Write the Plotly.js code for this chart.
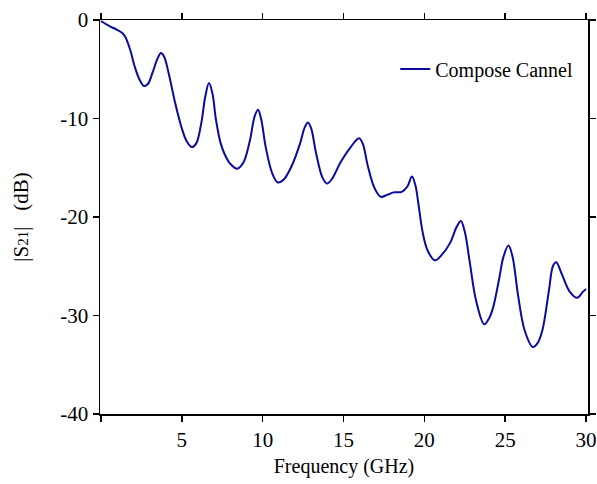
<!DOCTYPE html>
<html>
<head>
<meta charset="utf-8">
<script src="https://cdn.plot.ly/plotly-3.0.1.min.js"></script>
<style>body{margin:0;padding:0;background:#fff}#chart{width:597px;height:484px}</style>
</head>
<body>
<div id="chart"></div>
<script>
const freqGHz = [0,0.5,1.0,1.3,1.5,1.8,2.1,2.4,2.66,2.9,3.2,3.5,3.71,3.9,4.2,4.6,5.0,5.3,5.63,5.9,6.2,6.45,6.68,6.9,7.1,7.4,7.67,8.0,8.41,8.8,9.2,9.5,9.71,9.9,10.2,10.6,10.94,11.3,11.8,12.3,12.6,12.8,13.0,13.3,13.7,13.98,14.3,14.8,15.4,15.96,16.2,16.5,16.9,17.3,17.7,18.1,18.6,18.95,19.23,19.45,19.6,19.9,20.2,20.65,21.1,21.6,22.0,22.26,22.5,22.8,23.2,23.7,24.0,24.25,24.6,24.9,25.2,25.45,25.8,26.2,26.7,27.0,27.3,27.7,27.95,28.15,28.5,29.0,29.45,29.8,30];
const s21dB = [-0.1,-0.6,-1.0,-1.3,-1.7,-3.0,-4.8,-6.1,-6.7,-6.5,-5.3,-3.9,-3.35,-3.7,-5.5,-8.5,-11.0,-12.3,-12.9,-12.5,-10.5,-7.8,-6.4,-7.5,-10.0,-12.5,-13.7,-14.6,-15.1,-14.5,-12.3,-9.8,-9.1,-10.0,-13.0,-15.6,-16.5,-16.2,-14.8,-12.6,-10.9,-10.4,-11.0,-13.5,-16.0,-16.6,-16.1,-14.5,-13.0,-12.0,-12.6,-14.8,-17.0,-17.95,-17.75,-17.5,-17.45,-16.9,-15.9,-16.8,-18.3,-21.6,-23.4,-24.4,-23.8,-22.6,-21.0,-20.4,-21.5,-24.5,-28.5,-30.9,-30.3,-29.2,-26.5,-24.0,-22.9,-24.0,-28.0,-31.5,-33.2,-32.8,-31.5,-27.5,-25.0,-24.6,-25.8,-27.6,-28.2,-27.6,-27.3];
const xTickVals = [0,5,10,15,20,25,30];
const xTickText = ['','5','10','15','20','25','30'];
const yTickVals = [0,-10,-20,-30,-40];
const yTickText = ['0','-10','-20','-30','-40'];
const seriesName = 'Compose Cannel';

const font = {family: '"Liberation Serif", "Times New Roman", serif', color: '#000'};
const axisCommon = {
  showline: true, linecolor: '#000', linewidth: 1.5, mirror: 'ticks',
  ticks: 'outside', ticklen: 6, tickwidth: 1.5, tickcolor: '#000',
  showgrid: false, zeroline: false,
  tickfont: Object.assign({size: 21}, font)
};
const trace = {
  x: freqGHz, y: s21dB, type: 'scatter', mode: 'lines', name: seriesName,
  line: {color: '#0a0aa0', width: 2, shape: 'spline', smoothing: 1}
};
const layout = Object.assign({
  width: 597, height: 484,
  margin: {l: 100, r: 9, t: 20, b: 70},
  paper_bgcolor: '#fff', plot_bgcolor: '#fff',
  showlegend: true,
  legend: {x: 0.605, y: 0.925, xanchor: 'left', yanchor: 'top', bgcolor: 'rgba(0,0,0,0)', borderwidth: 0,
           font: Object.assign({size: 20}, font)},
  xaxis: Object.assign({}, axisCommon, {
    range: [-0.06, 30.12], tickvals: xTickVals, ticktext: xTickText,
    title: {text: 'Frequency (GHz)', font: Object.assign({size: 20}, font), standoff: 8}
  }),
  yaxis: Object.assign({}, axisCommon, {
    range: [-40, 0], tickvals: yTickVals, ticktext: yTickText,
    title: {text: '|S<span style="font-size:15px">21</span>|&nbsp;&nbsp; (dB)', font: Object.assign({size: 21}, font), standoff: 26}
  })
}, {font: Object.assign({size: 20}, font)});
Plotly.newPlot('chart', [trace], layout, {displayModeBar: false, staticPlot: true});
</script>
</body>
</html>
